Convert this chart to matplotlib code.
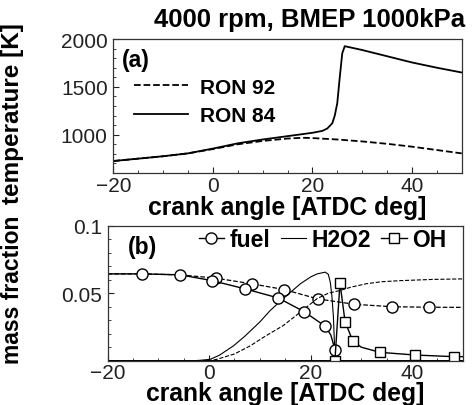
import matplotlib
matplotlib.use('Agg')
import matplotlib.pyplot as plt
from matplotlib.ticker import MultipleLocator, FixedLocator

plt.rcParams['font.family'] = ['Liberation Sans', 'DejaVu Sans']

# ---------------- DATA: (a) temperature ----------------
ca_84 = [-20, -15, -10, -5, 0, 5, 10, 15, 20, 22, 23, 24, 24.5, 25, 25.5, 26, 26.5, 30, 35, 40, 45, 50]
T_84 = [725, 750, 775, 805, 855, 910, 950, 985, 1020, 1040, 1065, 1120, 1200, 1330, 1600, 1850, 1925,
        1885, 1820, 1755, 1700, 1650]
ca_92 = [-20, -15, -10, -5, 0, 5, 10, 15, 18, 20, 25, 30, 35, 40, 45, 50]
T_92 = [725, 750, 775, 805, 850, 900, 935, 960, 968, 965, 950, 930, 905, 875, 840, 805]

# ---------------- DATA: (b) mass fraction ----------------
fuel84_x = [-20, -13.2, -5.7, 0.6, 7.1, 13.6, 18.7, 22.9, 24.0, 24.8, 25.2, 50]
fuel84_y = [0.0643, 0.0643, 0.0636, 0.0593, 0.0532, 0.0465, 0.0364, 0.0255, 0.019, 0.0082, 0.0, 0.0]
fuel84_mx = [-13.2, -5.7, 0.6, 7.1, 13.6, 18.7, 22.9, 24.8]
fuel84_my = [0.0643, 0.0636, 0.0593, 0.0532, 0.0465, 0.0364, 0.0255, 0.0082]

fuel92_x = [-20, -13.2, -5.7, 1.4, 8.5, 14.8, 21.4, 28.6, 36, 43.4, 50]
fuel92_y = [0.0643, 0.0643, 0.0636, 0.0611, 0.0569, 0.0527, 0.0458, 0.0418, 0.0400, 0.0396, 0.0395]
fuel92_mx = [1.4, 8.5, 14.8, 21.4, 28.6, 36, 43.4]
fuel92_my = [0.0611, 0.0569, 0.0527, 0.0458, 0.0418, 0.0400, 0.0396]

h2o2_84_x = [-20, -3, -1.8, 0.2, 2, 4.8, 7, 10, 12, 14.6, 18, 20, 21.3, 22.9, 23.5, 23.9, 24.2,
             24.5, 24.8, 25.0, 50]
h2o2_84_y = [0, 0, 0.0003, 0.001, 0.004, 0.011, 0.018, 0.0287, 0.037, 0.046, 0.057, 0.062, 0.0643,
             0.0656, 0.064, 0.058, 0.048, 0.033, 0.004, 0.0, 0.0]

h2o2_92_x = [-20, 0, 1.5, 5, 8.1, 11, 14.6, 18, 21.3, 23.5, 25.8, 28, 31, 34, 37.7, 44, 50]
h2o2_92_y = [0, 0, 0.001, 0.005, 0.011, 0.018, 0.026, 0.036, 0.046, 0.050, 0.052, 0.0545, 0.057,
             0.0585, 0.0593, 0.0602, 0.0606]

oh84_x = [-20, 24.8, 25.8, 26.8, 28.3, 30, 33.7, 40.6, 48.2, 50]
oh84_y = [0, 0, 0.0576, 0.029, 0.0148, 0.010, 0.0062, 0.0042, 0.003, 0.003]
oh84_mx = [24.8, 25.8, 26.8, 28.3, 33.7, 40.6, 48.2]
oh84_my = [0, 0.0576, 0.029, 0.0148, 0.0062, 0.0042, 0.003]

W, H = 473, 406
fig = plt.figure(figsize=(W / 100, H / 100), dpi=100)

def box(l, t, r, b):
    return [l / W, 1 - b / H, (r - l) / W, (b - t) / H]

ax1 = fig.add_axes(box(113.3, 40, 461.7, 174))
ax2 = fig.add_axes(box(107.7, 226.7, 462.7, 361.7))

tick_fs = 15
lab_fs = 17.8

for ax in (ax1, ax2):
    ax.set_xlim(-20, 50)
    ax.xaxis.set_major_locator(MultipleLocator(20))
    ax.xaxis.set_minor_locator(MultipleLocator(5))
    ax.tick_params(which='both', direction='in', top=False, right=False, labelsize=tick_fs,
                   colors='#222222')
    ax.tick_params(which='major', length=4, pad=2)
    ax.tick_params(which='minor', length=2.5)
    ax.tick_params(axis='y', pad=4)
    for s in ax.spines.values():
        s.set_color('#333333')
        s.set_linewidth(0.9)

ax1.set_xlabel('crank angle [ATDC deg]', fontsize=lab_fs, fontweight='bold', labelpad=0)
ax2.set_xlabel('crank angle [ATDC deg]', fontsize=lab_fs, fontweight='bold', labelpad=-1)

# ---------------- (a) ----------------
ax1.plot(ca_92, T_92, 'k--', lw=1.3, label='RON 92')
ax1.plot(ca_84, T_84, 'k-', lw=1.3, label='RON 84')
ax1.set_ylim(600, 2000)
ax1.yaxis.set_major_locator(FixedLocator([1000, 1500, 2000]))
ax1.yaxis.set_minor_locator(MultipleLocator(100))
ax1.set_ylabel('temperature [K]', fontsize=17.5, fontweight='bold')
ax1.yaxis.set_label_coords(-0.255, 0.45)
ax1.text(0.025, 0.93, '(a)', transform=ax1.transAxes, fontsize=16.5, fontweight='bold',
         ha='left', va='top')
ax1.legend(loc='upper left', bbox_to_anchor=(0.017, 0.82), frameon=False,
           prop={'size': 15, 'weight': 'bold'}, handlelength=2.6, handletextpad=0.6,
           labelspacing=0.45, borderaxespad=0.3)

# ---------------- (b) ----------------
ax2.plot(fuel92_x, fuel92_y, 'k--', lw=0.9)
ax2.plot(fuel92_mx, fuel92_my, 'o', ls='none', ms=8, mfc='white', mec='black', mew=1)
ax2.plot(h2o2_92_x, h2o2_92_y, 'k--', lw=0.8)
ax2.plot(h2o2_84_x, h2o2_84_y, 'k-', lw=0.8)
ax2.plot(fuel84_x, fuel84_y, 'k-', lw=1.0)
ax2.plot(fuel84_mx, fuel84_my, 'o', ls='none', ms=8, mfc='white', mec='black', mew=1)
ax2.plot(oh84_x, oh84_y, 'k-', lw=1.0)
ax2.plot(oh84_mx, oh84_my, 's', ls='none', ms=6.5, mfc='white', mec='black', mew=1)
ax2.set_ylim(0, 0.1)
ax2.yaxis.set_major_locator(FixedLocator([0.05, 0.1]))
ax2.yaxis.set_major_formatter(plt.FuncFormatter(lambda v, p: '%g' % v))
ax2.yaxis.set_minor_locator(MultipleLocator(0.01))
ax2.set_ylabel('mass fraction', fontsize=16.5, fontweight='bold')
ax2.yaxis.set_label_coords(-0.235, 0.53)
ax2.text(0.057, 0.93, '(b)', transform=ax2.transAxes, fontsize=16.5, fontweight='bold',
         ha='left', va='top')

h_fuel, = ax2.plot([], [], 'k-', lw=1.0, marker='o', ms=8, mfc='white', mec='black')
h_h2o2, = ax2.plot([], [], 'k-', lw=0.8)
h_oh, = ax2.plot([], [], 'k-', lw=1.0, marker='s', ms=6.5, mfc='white', mec='black')
ax2.legend([h_fuel, h_h2o2, h_oh], ['fuel', 'H2O2', 'OH'], loc='center right',
           bbox_to_anchor=(1.0, 0.9), ncol=3, frameon=False,
           prop={'size': 16.5, 'weight': 'bold'}, handlelength=1.1, handletextpad=0.25,
           columnspacing=0.45, borderaxespad=0.3)

fig.text(0.983, 1 - 20 / H, '4000 rpm, BMEP 1000kPa', ha='right', va='center',
         fontsize=18.5, fontweight='bold')

fig.savefig('out.png', dpi=100)
